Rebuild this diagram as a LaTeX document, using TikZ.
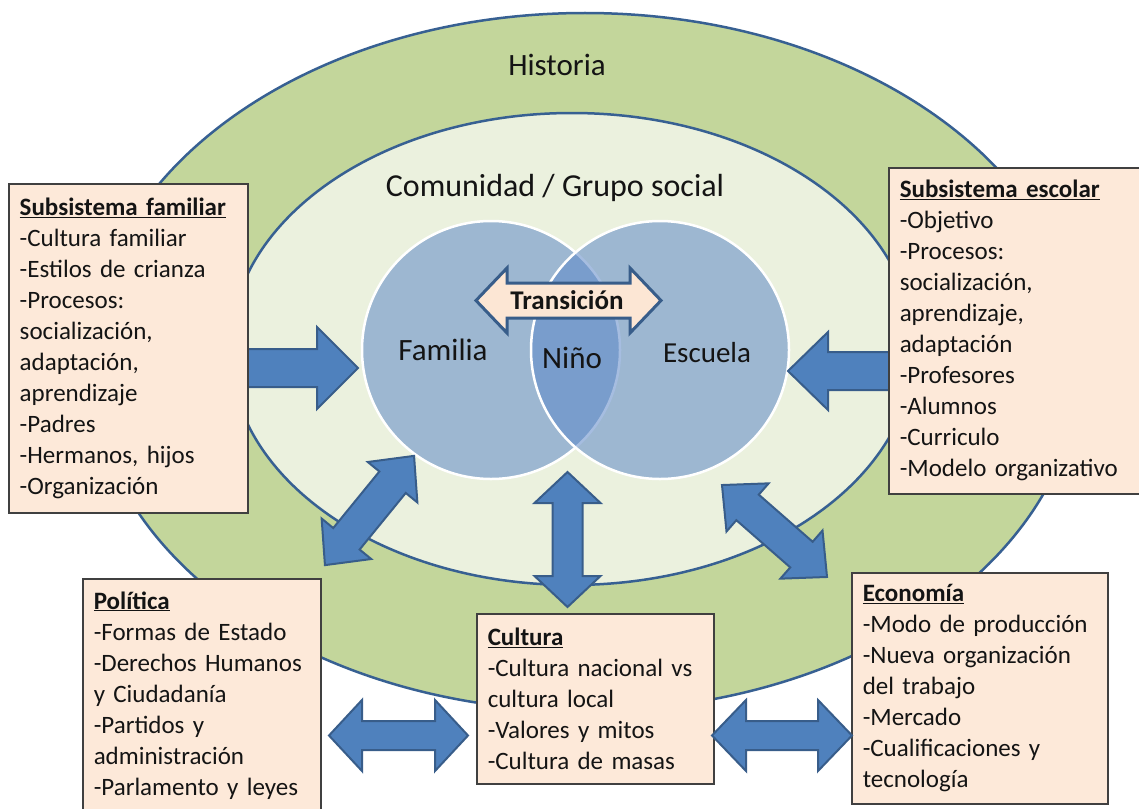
\documentclass[tikz,border=0pt]{standalone}
\usepackage{fontspec}
\setmainfont{Carlito}
\definecolor{outergreen}{RGB}{195,214,155}
\definecolor{innergreen}{RGB}{235,241,222}
\definecolor{ringblue}{RGB}{55,96,146}
\definecolor{vennblue}{RGB}{93,136,200}
\definecolor{boxfill}{RGB}{253,233,217}
\definecolor{boxline}{RGB}{64,64,64}
\definecolor{arrfill}{RGB}{79,129,189}
\definecolor{arrline}{RGB}{56,93,138}
\definecolor{transfill}{RGB}{252,230,212}
\definecolor{textdark}{RGB}{20,20,20}
\tikzset{
  ring/.style={draw=ringblue, line width=2.5pt},
  venn/.style={draw=white, line width=2.5pt, fill=vennblue, fill opacity=0.55},
  blockarrow/.style={draw=arrline, line width=2pt, fill=arrfill, line join=miter},
  transarrow/.style={draw=arrline, line width=3pt, fill=transfill, line join=miter},
  infobox/.style={draw=boxline, line width=1.5pt, fill=boxfill, anchor=north west,
    align=left, inner xsep=11pt, inner ysep=0pt, text=textdark,
    font=\fontsize{25}{31}\selectfont},
  bigtext/.style={text=textdark, inner sep=0pt}
}
% double block arrow: cx, cy, angle, half length, half shaft, half head, head length, style
\newcommand\blockdbl[8]{%
  \begin{scope}[shift={(#1,#2)}, rotate=#3]
    \path[#8] (-#4,0) -- ({-#4+#7},#6) -- ({-#4+#7},#5) -- ({#4-#7},#5) -- ({#4-#7},#6)
      -- (#4,0) -- ({#4-#7},-#6) -- ({#4-#7},-#5) -- ({-#4+#7},-#5) -- ({-#4+#7},-#6) -- cycle;
  \end{scope}}
\begin{document}
\begin{tikzpicture}[x=1pt,y=-1pt]
\useasboundingbox (0,0) rectangle (1139,808);
\fill[white] (0,0) rectangle (1139,808);
% rings
\draw[ring, fill=outergreen] (585,362) ellipse [x radius=495pt, y radius=349pt];
\draw[ring, fill=innergreen] (572,349) ellipse [x radius=342pt, y radius=236pt];
% Venn
\path[venn] (491,350) circle [radius=129pt];
\path[venn] (660,350) circle [radius=129pt];
% labels
\node[bigtext, font=\fontsize{31}{36}\selectfont] (historia) at (557,65) {Historia};
\node[bigtext, font=\fontsize{32}{38}\selectfont] (comunidad) at (555,188) {Comunidad / Grupo social};
\node[bigtext, font=\fontsize{31}{36}\selectfont] (familia) at (443,350) {Familia};
\node[bigtext, font=\fontsize{31}{36}\selectfont] (nino) at (572,358) {Niño};
\node[bigtext, font=\fontsize{29}{34}\selectfont] (escuela) at (707,353) {Escuela};
% transition arrow
\blockdbl{568.5}{300.5}{0}{92.5}{17.5}{32.5}{31}{transarrow}
\node[bigtext, font=\bfseries\fontsize{27}{32}\selectfont] (transicion) at (567,300) {Transición};
% single arrows into the circles
\path[blockarrow] (240,349) -- (317,349) -- (317,327) -- (358,368) -- (317,409) -- (317,387) -- (240,387) -- cycle;
\path[blockarrow] (895,352) -- (828,352) -- (828,332) -- (788,371) -- (828,410) -- (828,390) -- (895,390) -- cycle;
% boxes
\node[infobox, text width=217pt, minimum height=329pt] (familiar) at (8,183)
 {\textbf{\underline{Subsistema familiar}}\\-Cultura familiar\\-Estilos de crianza\\-Procesos:\\socialización,\\adaptación,\\aprendizaje\\-Padres\\-Hermanos, hijos\\-Organización};
\node[infobox, text width=229pt, minimum height=326pt] (escolar) at (888,167)
 {\textbf{\underline{Subsistema escolar}}\\-Objetivo\\-Procesos:\\socialización,\\aprendizaje,\\adaptación\\-Profesores\\-Alumnos\\-Curriculo\\-Modelo organizativo};
\node[infobox, text width=216pt, minimum height=233pt] (politica) at (82,578)
 {\textbf{\underline{Política}}\\-Formas de Estado\\-Derechos Humanos\\y Ciudadanía\\-Partidos y\\administración\\-Parlamento y leyes};
\node[infobox, text width=215pt, minimum height=170pt] (cultura) at (476,613)
 {\textbf{\underline{Cultura}}\\-Cultura nacional vs\\cultura local\\-Valores y mitos\\-Cultura de masas};
\node[infobox, text width=234pt, minimum height=231pt] (economia) at (851,572)
 {\textbf{\underline{Economía}}\\-Modo de producción\\-Nueva organización\\del trabajo\\-Mercado\\-Cualificaciones y\\tecnología};
% double arrows
\blockdbl{369.5}{510.5}{50.8}{70.5}{17}{32}{34}{blockarrow}
\blockdbl{567.5}{539.5}{90}{67.5}{15}{33}{31}{blockarrow}
\blockdbl{774.5}{531}{-41.2}{69.8}{17}{32}{34}{blockarrow}
\blockdbl{398.5}{735.5}{0}{69.5}{14.5}{35.5}{33}{blockarrow}
\blockdbl{782}{735.5}{0}{70}{14.5}{35.5}{34}{blockarrow}
\end{tikzpicture}
\end{document}
